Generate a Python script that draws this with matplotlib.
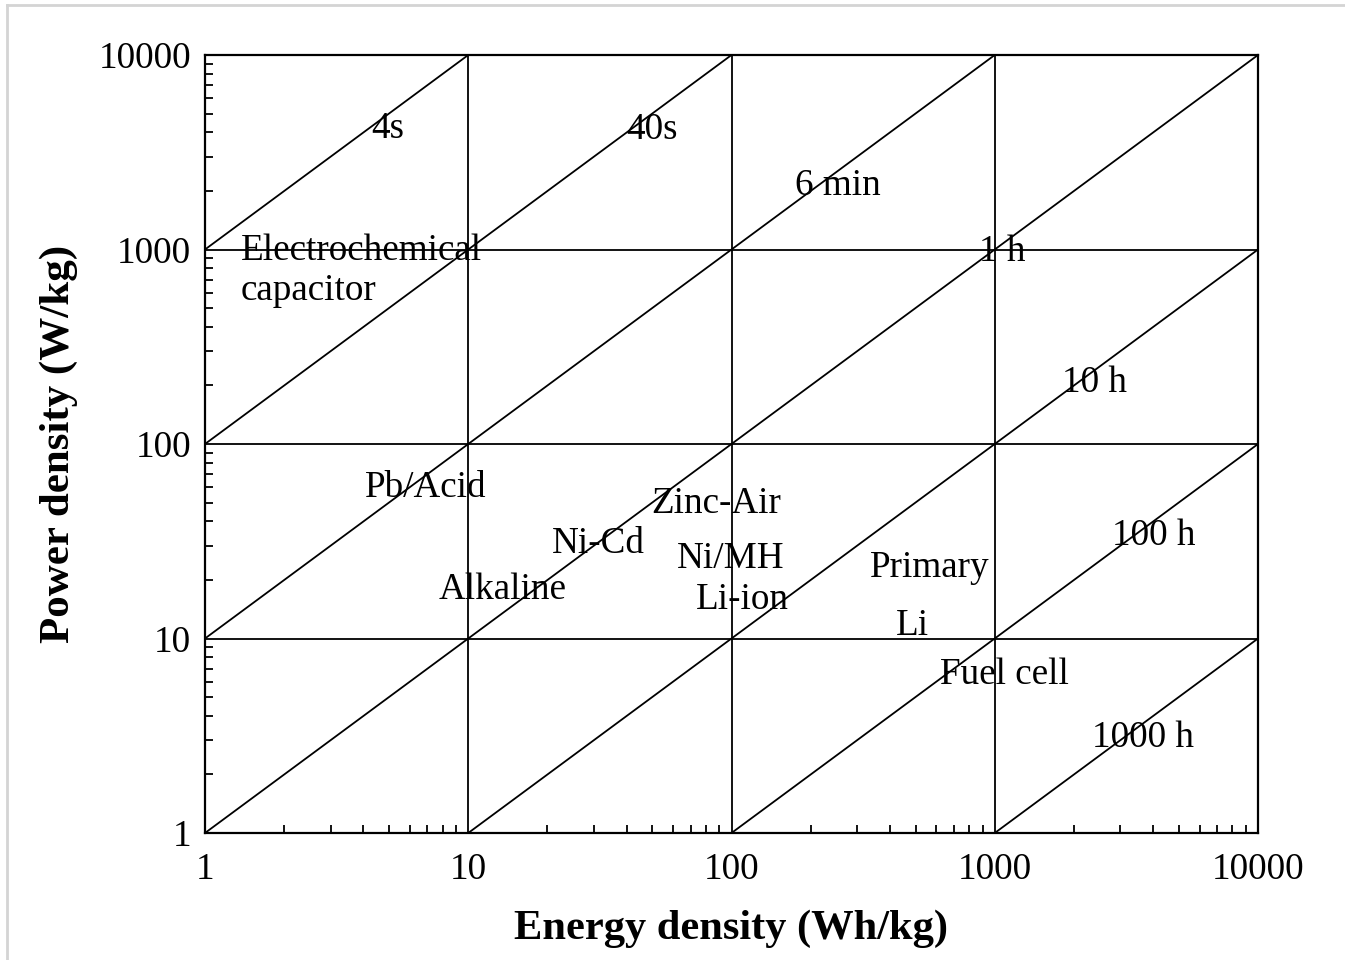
import numpy as np
import matplotlib
matplotlib.use("Agg")
import matplotlib.pyplot as plt
from matplotlib.lines import Line2D
from matplotlib.transforms import ScaledTranslation
from matplotlib.ticker import LogLocator, NullFormatter, FixedLocator, FixedFormatter

plt.rcParams['font.family'] = ['Liberation Serif', 'DejaVu Serif']

# Axis decades (energy in Wh/kg, power in W/kg)
decades = [1, 10, 100, 1000, 10000]
tick_labels = ["1", "10", "100", "1000", "10000"]

# Constant discharge-time lines: power/energy ratio (1/h)
time_ratios = [1000, 100, 10, 1, 0.1, 0.01, 0.001]
time_labels = ["4s", "40s", "6 min", "1 h", "10 h", "100 h", "1000 h"]
time_label_e = [4.96, 49.9, 254, 1066, 2383, 4027, 3656]
time_label_p = [4365, 4315, 2224, 1018, 218, 35.3, 3.23]

# Storage technologies (label positions in energy / power units)
tech_names = ["Pb/Acid", "Alkaline", "Ni-Cd", "Zinc-Air", "Ni/MH", "Li-ion",
              "Primary", "Li", "Fuel cell"]
tech_e = [6.91, 13.55, 31.1, 87.3, 99.6, 109.6, 567, 485, 1084]
tech_p = [62.3, 18.6, 32.1, 51.5, 26.9, 16.7, 24.2, 12.2, 6.81]

cap_lines = ["Electrochemical", "capacitor"]
cap_e = 1.37
cap_p = [1030, 647]

fig = plt.figure(figsize=(13.45, 9.6), dpi=100)
ax = fig.add_axes([205 / 1345, 1 - 833 / 960, 1053 / 1345, 778 / 960])
ax.set_xscale('log')
ax.set_yscale('log')
ax.set_xlim(1, 10000)
ax.set_ylim(1, 10000)

lw = 1.3
# decade grid
for d in decades[1:-1]:
    ax.axvline(d, color='black', lw=lw)
    ax.axhline(d, color='black', lw=lw)

# diagonal constant-time lines
e = np.array([1.0, 10000.0])
for r in time_ratios:
    ax.plot(e, r * e, color='black', lw=lw, solid_capstyle='butt')

fs = 26.7
tr = ax.transData + ScaledTranslation(0, -3 / 72, fig.dpi_scale_trans)
for lab, x, y in zip(time_labels, time_label_e, time_label_p):
    ax.text(x, y, lab, fontsize=fs, ha='center', va='center', transform=tr)
for lab, x, y in zip(tech_names, tech_e, tech_p):
    ax.text(x, y, lab, fontsize=fs, ha='center', va='center', transform=tr)
for lab, y in zip(cap_lines, cap_p):
    ax.text(cap_e, y, lab, fontsize=fs, ha='left', va='center', transform=tr)

for sp in ax.spines.values():
    sp.set_linewidth(1.6)

ax.xaxis.set_major_locator(FixedLocator(decades))
ax.xaxis.set_major_formatter(FixedFormatter(tick_labels))
ax.yaxis.set_major_locator(FixedLocator(decades))
ax.yaxis.set_major_formatter(FixedFormatter(tick_labels))
ax.xaxis.set_minor_locator(LogLocator(base=10, subs=np.arange(2, 10)))
ax.yaxis.set_minor_locator(LogLocator(base=10, subs=np.arange(2, 10)))
ax.xaxis.set_minor_formatter(NullFormatter())
ax.yaxis.set_minor_formatter(NullFormatter())
ax.tick_params(which='major', length=0, labelsize=fs)
ax.tick_params(axis='x', which='major', pad=14)
ax.tick_params(axis='y', which='major', pad=10)
ax.tick_params(which='minor', direction='in', length=5.5, width=1.3)
ax.tick_params(top=False, right=False, which='both')

ax.set_xlabel("Energy density (Wh/kg)", fontsize=30.6, fontweight='bold', labelpad=16)
ax.set_ylabel("Power density (W/kg)", fontsize=31, fontweight='bold', labelpad=15)

# light frame edges
gray = '#d4d4d4'
fig.add_artist(Line2D([6.5 / 1345, 1.0], [1 - 4.5 / 960, 1 - 4.5 / 960],
                      transform=fig.transFigure, color=gray, lw=2))
fig.add_artist(Line2D([6.5 / 1345, 6.5 / 1345], [0.0, 1 - 4.5 / 960],
                      transform=fig.transFigure, color=gray, lw=2))

fig.savefig("out.png", dpi=100, facecolor='white')
